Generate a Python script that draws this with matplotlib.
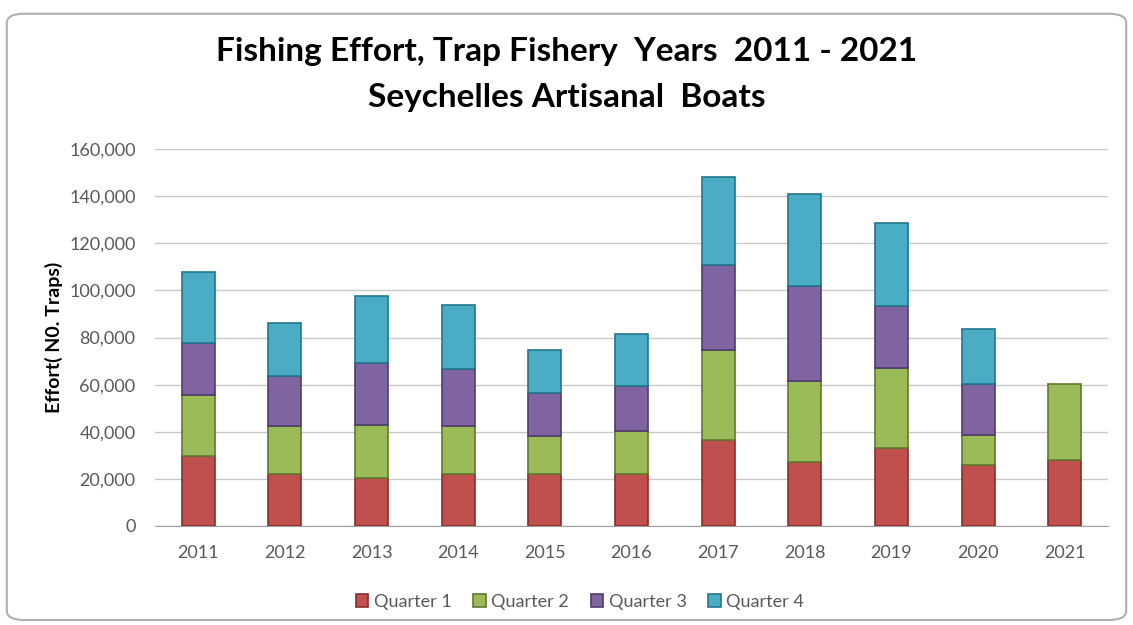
import numpy as np
import matplotlib
matplotlib.use("Agg")
import matplotlib.pyplot as plt
from matplotlib.patches import FancyBboxPatch
from matplotlib.ticker import FuncFormatter

# values (No. of traps)
years = ['2011', '2012', '2013', '2014', '2015', '2016', '2017', '2018', '2019', '2020', '2021']
q1 = [29600, 22200, 20500, 22200, 22200, 21900, 36700, 27100, 33200, 26100, 28200]
q2 = [25800, 20200, 22200, 20200, 16200, 18300, 37900, 34400, 33900, 12700, 32200]
q3 = [22400, 21200, 26600, 24300, 18100, 19100, 36000, 40300, 26200, 21300, 0]
q4 = [29900, 22400, 28200, 27000, 18000, 22000, 37400, 38900, 35400, 23600, 0]
series_names = ['Quarter 1', 'Quarter 2', 'Quarter 3', 'Quarter 4']
colors = ['#C0504D', '#9BBB59', '#8064A2', '#4BACC6']
edges = ['#8B2E2B', '#5F7A2E', '#4F3C6E', '#22758C']

plt.rcParams['font.family'] = ['Lato', 'DejaVu Sans']

fig = plt.figure(figsize=(11.33, 6.25), dpi=100)
fig.patch.set_facecolor('white')

# rounded chart border
frame = FancyBboxPatch((0.006, 0.008), 0.988, 0.97, boxstyle="round,pad=0,rounding_size=0.015",
                       transform=fig.transFigure, facecolor='none', edgecolor='#B0B0B0',
                       linewidth=1.5, zorder=-1)
fig.patches.append(frame)

ax = fig.add_axes([155 / 1133, 1 - 526 / 625, (1108 - 155) / 1133, (526 - 149) / 625])
ax.set_facecolor('none')
x = np.arange(len(years))
bottom = np.zeros(len(years))
for vals, name, c, ec in zip([q1, q2, q3, q4], series_names, colors, edges):
    vals = np.array(vals, dtype=float)
    m = vals > 0  # 2021 has no Q3/Q4 data
    ax.bar(x[m], vals[m], width=0.38, bottom=bottom[m], color=c, edgecolor=ec, linewidth=1.2,
           label=name, zorder=3)
    bottom += vals

ax.set_xlim(-0.5, len(years) - 0.5)
ax.set_ylim(0, 160000)
ax.set_yticks(np.arange(0, 160001, 20000))
ax.yaxis.set_major_formatter(FuncFormatter(lambda v, p: f'{int(v):,}'))
ax.set_xticks(x)
ax.set_xticklabels(years)
ax.grid(axis='y', color='#C8C8C8', linewidth=1.0, zorder=0)
ax.set_axisbelow(True)
for s in ['top', 'right', 'left']:
    ax.spines[s].set_visible(False)
ax.spines['bottom'].set_color('#A0A0A0')
ax.tick_params(axis='both', length=0, labelsize=13, colors='#595959', pad=14)
ax.tick_params(axis='y', pad=14)
ax.set_ylabel('Effort( N0. Traps)', fontsize=14, fontweight='bold', color='black', labelpad=4)

fig.text(0.5, 1 - 52 / 625, 'Fishing Effort, Trap Fishery  Years  2011 - 2021', ha='center', va='center',
         fontsize=24, fontweight='bold')
fig.text(0.5, 1 - 98 / 625, 'Seychelles Artisanal  Boats', ha='center', va='center',
         fontsize=24, fontweight='bold')

fig.legend(loc='center', bbox_to_anchor=(580 / 1133, 1 - 602 / 625), ncol=4, frameon=False,
           fontsize=13, handlelength=0.7, handleheight=0.7, handletextpad=0.3, columnspacing=1.2,
           labelcolor='#595959')

fig.savefig('out.png', dpi=100)
